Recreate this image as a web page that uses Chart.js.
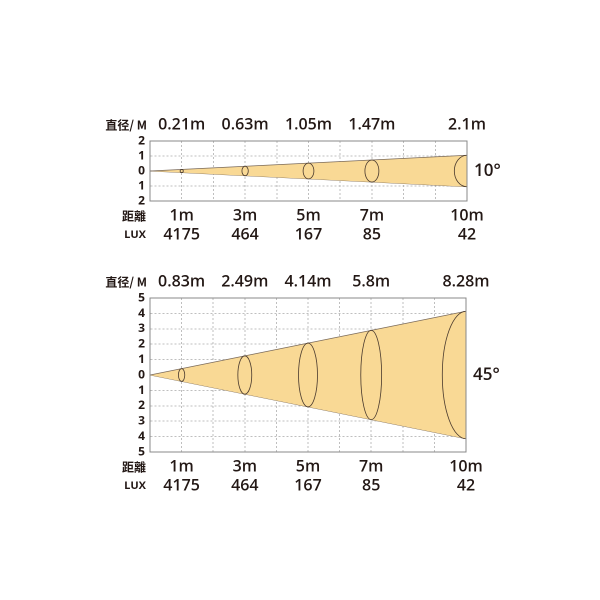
<!DOCTYPE html>
<html><head><meta charset="utf-8">
<script src="https://cdn.jsdelivr.net/npm/chart.js@4"></script>
<style>body{margin:0;background:#fff}canvas{position:absolute;left:0}</style>
</head><body>
<canvas id="c1" style="top:110px;width:600px;height:140px"></canvas>
<canvas id="c2" style="top:265px;width:600px;height:235px"></canvas>
<script>
const distances = [1, 3, 5, 7, 10];
const luxValues = ['4175', '464', '167', '85', '42'];
const diameters10 = ['0.21m', '0.63m', '1.05m', '1.47m', '2.1m'];
const diameters45 = ['0.83m', '2.49m', '4.14m', '5.8m', '8.28m'];
const radii10 = [0.105, 0.315, 0.525, 0.735, 1.05];
const radii45 = [0.415, 1.245, 2.07, 2.9, 4.14];
const ellipseHalfW10 = [0.05, 0.1, 0.17, 0.22, 0.4];
const ellipseHalfW45 = [0.1, 0.22, 0.3, 0.33, 0.75];
const yTicks10 = [-2, -1, 0, 1, 2];
const yTicks45 = [-5, -4, -3, -2, -1, 0, 1, 2, 3, 4, 5];

const FONT = '"Open Sans", "Noto Sans CJK SC", sans-serif';

function make(id, radii, halfW, diam, ticks, angle, pad) {
  const yMax = ticks[ticks.length - 1];
  const rEnd = radii[radii.length - 1];
  const labelPlugin = {
    id: 'labels',
    afterDatasetsDraw(chart) {
      const {ctx, chartArea: a, scales: {x, y}} = chart;
      ctx.save();
      ctx.beginPath(); ctx.rect(a.left, a.top, a.right - a.left, a.bottom - a.top); ctx.clip();
      ctx.strokeStyle = '#4a3a2e'; ctx.lineWidth = 0.8;
      distances.forEach((d, i) => {
        const cx = x.getPixelForValue(d), cy = y.getPixelForValue(0);
        const rx = Math.abs(x.getPixelForValue(d + halfW[i]) - cx);
        const ry = Math.abs(y.getPixelForValue(radii[i]) - cy);
        ctx.beginPath(); ctx.ellipse(cx, cy, rx, ry, 0, 0, Math.PI * 2); ctx.stroke();
      });
      ctx.restore();
      ctx.save();
      ctx.fillStyle = '#231815';
      ctx.textBaseline = 'middle';
      ctx.font = '600 16px ' + FONT; ctx.textAlign = 'center';
      distances.forEach((d, i) => {
        const px = x.getPixelForValue(d);
        ctx.fillText(diam[i], px, a.top - 16);
        ctx.fillText(d + 'm', px, a.bottom + 15);
        ctx.fillText(luxValues[i], px, a.bottom + 34);
      });
      ctx.font = 'bold 12px ' + FONT; ctx.textAlign = 'right';
      ticks.forEach(t => ctx.fillText(String(Math.abs(t)), a.left - 5, y.getPixelForValue(t)));
      ctx.font = 'bold 12px "Noto Sans CJK SC", sans-serif';
      ctx.fillText('直径/ M', a.left - 3, a.top - 16);
      ctx.fillText('距離', a.left - 4, a.bottom + 15);
      ctx.font = 'bold 11px ' + FONT;
      ctx.fillText('LUX', a.left - 4, a.bottom + 34);
      ctx.font = '600 17px ' + FONT; ctx.textAlign = 'left';
      ctx.fillText(angle, a.right + 7, y.getPixelForValue(0));
      ctx.restore();
    }
  };
  const axis = (min, max) => ({
    type: 'linear', min, max,
    ticks: {display: false, stepSize: 1},
    grid: {color: '#b0b0b0', drawTicks: false, lineWidth: 0.8},
    border: {color: '#888', width: 1, dash: [2, 2]}
  });
  return new Chart(document.getElementById(id), {
    type: 'scatter',
    data: { datasets: [
      { data: [{x: 0, y: 0}, {x: 10, y: rEnd}], showLine: true, pointRadius: 0, borderColor: '#7a6a5a', borderWidth: 0.8, fill: '+1', backgroundColor: '#f9d995' },
      { data: [{x: 0, y: 0}, {x: 10, y: -rEnd}], showLine: true, pointRadius: 0, borderColor: '#7a6a5a', borderWidth: 0.8, fill: false },
      { data: [{x: 0, y: 0}, {x: 10, y: 0}], showLine: true, pointRadius: 0, borderColor: '#3a2a20', borderWidth: 1, fill: false }
    ]},
    options: {
      responsive: false, animation: false, devicePixelRatio: 2,
      layout: { padding: pad },
      plugins: { legend: {display: false}, tooltip: {enabled: false} },
      scales: { x: axis(0, 10), y: axis(-yMax, yMax) }
    },
    plugins: [labelPlugin, {
      id: 'frame',
      afterDraw(chart) {
        const {ctx, chartArea: a} = chart;
        ctx.save(); ctx.strokeStyle = '#888'; ctx.lineWidth = 1; ctx.setLineDash([]);
        ctx.strokeRect(a.left, a.top, a.right - a.left, a.bottom - a.top);
        ctx.restore();
      }
    }]
  });
}
make('c1', radii10, ellipseHalfW10, diameters10, yTicks10, '10°', {left: 150, right: 133, top: 31, bottom: 49});
make('c2', radii45, ellipseHalfW45, diameters45, yTicks45, '45°', {left: 150, right: 134, top: 33, bottom: 48});
</script>
</body></html>
